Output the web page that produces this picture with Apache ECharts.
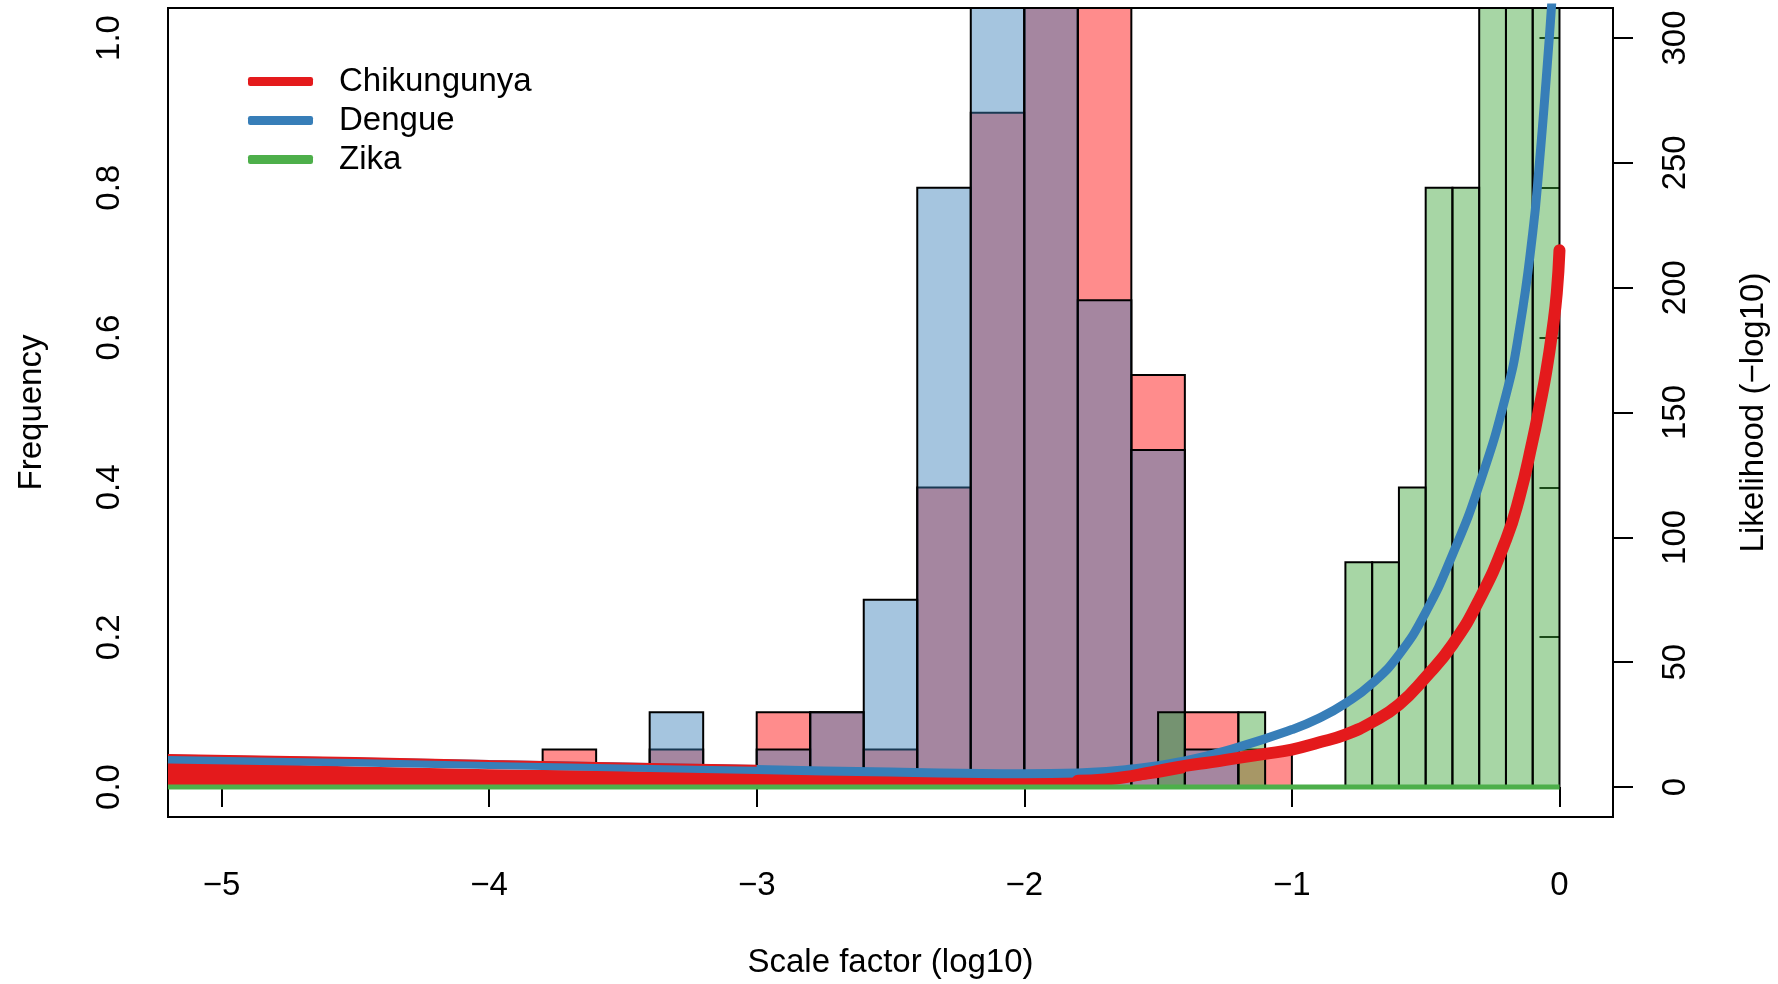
<!DOCTYPE html>
<html>
<head>
<meta charset="utf-8">
<script src="https://cdn.jsdelivr.net/npm/echarts@6/dist/echarts.min.js"></script>
<style>
  html, body { margin: 0; padding: 0; background: #fff; }
  #chart { width: 1778px; height: 984px; }
</style>
</head>
<body>
<div id="chart"></div>
<script>
// histogram bins (left axis, frequency)
var chikBinStart = [-3.8, -3.6, -3.4, -3.2, -3.0, -2.8, -2.6, -2.4, -2.2, -2.0, -1.8, -1.6, -1.4, -1.2];
var chikFreq     = [0.05, 0, 0.05, 0, 0.1, 0.1, 0.05, 0.4, 0.9, 1.45, 1.2, 0.55, 0.1, 0.05];
var dengueFreq   = [0, 0, 0.1, 0, 0.05, 0.1, 0.25, 0.8, 1.15, 1.4, 0.65, 0.45, 0.05, 0];
var chikBinWidth = 0.2;

var zikaBinStart = [-1.5, -1.4, -1.3, -1.2, -1.1, -1.0, -0.9, -0.8, -0.7, -0.6, -0.5, -0.4, -0.3, -0.2, -0.1];
var zikaFreq     = [0.1, 0, 0, 0.1, 0, 0, 0, 0.3, 0.3, 0.4, 0.8, 0.8, 1.6, 2.4, 3.2];
var zikaBinWidth = 0.1;

// likelihood curves (right axis, -log10)
var dengueX   = [-5.2, -4.5, -4.0, -3.5, -3.0, -2.5, -2.0, -1.8, -1.6, -1.4, -1.2, -1.0, -0.9, -0.8, -0.7, -0.6, -0.5, -0.4, -0.3, -0.2, -0.15, -0.1, -0.075, -0.05, -0.025, 0];
var dengueLik = [11.2, 10.0, 9.0, 8.0, 7.0, 6.0, 5.3, 5.6, 7.2, 10.5, 16, 23, 27.5, 33.5, 41.5, 53, 70, 93, 121, 157, 183, 222, 250, 283, 320, 360];

var chikX   = [-1.8, -1.7, -1.6, -1.5, -1.4, -1.3, -1.2, -1.1, -1.0, -0.9, -0.8, -0.7, -0.6, -0.5, -0.4, -0.3, -0.2, -0.15, -0.1, -0.075, -0.05, -0.025, -0.01, 0];
var chikLik = [2.5, 3.0, 4.4, 6.5, 8.5, 10, 11.7, 13.3, 15, 17.8, 21, 26, 33, 44, 57, 75, 99, 116, 139, 152, 166, 184, 198, 215];

// the dense red band at low scale factors
var bandX    = [-5.2, -4.5, -4.0, -3.5, -3.0, -2.5, -2.0, -1.8, -1.7, -1.6, -1.5, -1.4];
var bandLow  = [0.6, 0.6, 0.6, 0.6, 0.6, 0.6, 0.6, 0.8, 1.3, 2.2, 3.6, 5.6];
var bandHigh = [10.2, 8.2, 7.1, 6.4, 5.6, 4.7, 4.1, 4.2, 4.8, 5.8, 7.4, 9.2];

var chikTopX   = [-5.2, -4.5, -4.0, -3.5, -3.0];
var chikTopLik = [12.8, 11.6, 10.4, 9.4, 8.5];

var zikaX   = [-5.2, -4, -3, -2, -1, 0];
var zikaLik = [0, 0, 0, 0, 0, 0];

var xTicks     = [-5, -4, -3, -2, -1, 0];
var freqTicks  = [0, 0.2, 0.4, 0.6, 0.8, 1.0];
var likTicks   = [0, 50, 100, 150, 200, 250, 300];

var FONT = 'Liberation Sans, Arial, Helvetica, sans-serif';

function pairs(xs, ys) {
  return xs.map(function (x, i) { return [x, ys[i]]; });
}

function bins(starts, width, freqs) {
  return starts.map(function (s, i) { return [s, s + width, freqs[i]]; });
}

function histItem(fill) {
  return function (params, api) {
    if (!api.value(2)) return null;
    var lo = api.coord([api.value(0), 0]);
    var hi = api.coord([api.value(1), api.value(2)]);
    var cs = params.coordSys;
    var shape = echarts.graphic.clipRectByRect(
      { x: lo[0], y: hi[1], width: hi[0] - lo[0], height: lo[1] - hi[1] },
      { x: cs.x, y: cs.y, width: cs.width, height: cs.height }
    );
    if (!shape) return null;
    return {
      type: 'rect',
      shape: shape,
      style: { fill: fill, stroke: '#000', lineWidth: 2 }
    };
  };
}

// one polygon between the lower and upper edge of the band
function bandItem(params, api) {
  if (params.dataIndex !== 0) return null;
  var pts = [];
  for (var i = 0; i < bandX.length; i++) pts.push(api.coord([bandX[i], bandHigh[i]]));
  for (var j = bandX.length - 1; j >= 0; j--) pts.push(api.coord([bandX[j], bandLow[j]]));
  return { type: 'polygon', shape: { points: pts }, style: { fill: '#E41A1C' } };
}

function minus(v) {
  return String(v).replace('-', '\u2212');
}

var axisText = { color: '#000', fontSize: 33, fontFamily: FONT };

var chart = echarts.init(document.getElementById('chart'));

chart.setOption({
  animation: false,
  backgroundColor: '#fff',
  grid: {
    left: 168, right: 165, top: 8, bottom: 167,
    show: true, borderColor: '#000', borderWidth: 2, backgroundColor: 'transparent'
  },
  legend: {
    data: ['Chikungunya', 'Dengue', 'Zika'],
    orient: 'vertical',
    left: 243,
    top: 60,
    icon: 'roundRect',
    itemWidth: 65,
    itemHeight: 9,
    itemGap: 6,
    selectedMode: false,
    textStyle: { color: '#000', fontSize: 33, fontFamily: FONT, lineHeight: 33, padding: [0, 0, 0, 21] }
  },
  xAxis: {
    type: 'value',
    min: -5.2,
    max: 0.2,
    name: 'Scale factor (log10)',
    nameLocation: 'middle',
    nameGap: 129,
    nameTextStyle: axisText,
    axisLine: { show: false },
    splitLine: { show: false },
    axisTick: { show: true, customValues: xTicks, length: 20, lineStyle: { color: '#000', width: 2 } },
    axisLabel: Object.assign({ customValues: xTicks, margin: 52, formatter: minus }, axisText)
  },
  yAxis: [{
    type: 'value',
    min: -0.04,
    max: 1.04,
    name: 'Frequency',
    nameLocation: 'middle',
    nameGap: 120,
    nameTextStyle: axisText,
    axisLine: { show: false },
    splitLine: { show: false },
    axisTick: { show: true, customValues: freqTicks, length: 20, lineStyle: { color: '#000', width: 2 } },
    axisLabel: Object.assign({
      customValues: freqTicks, rotate: 90, margin: 42,
      formatter: function (v) { return v.toFixed(1); }
    }, axisText)
  }, {
    type: 'value',
    position: 'right',
    min: -12,
    max: 312,
    name: 'Likelihood (\u2212log10)',
    nameLocation: 'middle',
    nameGap: 124,
    nameTextStyle: axisText,
    axisLine: { show: false },
    splitLine: { show: false },
    axisTick: { show: true, customValues: likTicks, length: 20, lineStyle: { color: '#000', width: 2 } },
    axisLabel: Object.assign({ customValues: likTicks, rotate: 90, margin: 46 }, axisText)
  }],
  series: [
    {
      name: 'Chikungunya hist', type: 'custom', yAxisIndex: 0,
      renderItem: histItem('rgba(255,0,0,0.45)'),
      encode: { x: [0, 1], y: 2 },
      data: bins(chikBinStart, chikBinWidth, chikFreq)
    },
    {
      name: 'Dengue hist', type: 'custom', yAxisIndex: 0,
      renderItem: histItem('rgba(55,126,184,0.45)'),
      encode: { x: [0, 1], y: 2 },
      data: bins(chikBinStart, chikBinWidth, dengueFreq)
    },
    {
      name: 'Zika hist', type: 'custom', yAxisIndex: 0,
      renderItem: histItem('rgba(60,165,55,0.45)'),
      encode: { x: [0, 1], y: 2 },
      data: bins(zikaBinStart, zikaBinWidth, zikaFreq)
    },
    {
      name: 'Dengue', type: 'line', yAxisIndex: 1,
      symbol: 'none', smooth: 0.5, color: '#377EB8',
      lineStyle: { width: 9, color: '#377EB8', join: 'round' },
      data: pairs(dengueX, dengueLik)
    },
    {
      name: 'band', type: 'custom', yAxisIndex: 1,
      renderItem: bandItem,
      encode: { x: 0, y: [1, 2] },
      data: bandX.map(function (x, i) { return [x, bandLow[i], bandHigh[i]]; })
    },
    {
      name: 'band top', type: 'line', yAxisIndex: 1,
      symbol: 'none', smooth: 0.3, color: '#E41A1C',
      lineStyle: { width: 2, color: '#E41A1C' },
      data: pairs(chikTopX, chikTopLik)
    },
    {
      name: 'Chikungunya', type: 'line', yAxisIndex: 1,
      symbol: 'none', smooth: 0.5, color: '#E41A1C',
      lineStyle: { width: 12, color: '#E41A1C', cap: 'round', join: 'round' },
      data: pairs(chikX, chikLik)
    },
    {
      name: 'Zika', type: 'line', yAxisIndex: 1,
      symbol: 'none', color: '#4DAF4A',
      lineStyle: { width: 5, color: '#4DAF4A' },
      data: pairs(zikaX, zikaLik)
    }
  ]
});
</script>
</body>
</html>
